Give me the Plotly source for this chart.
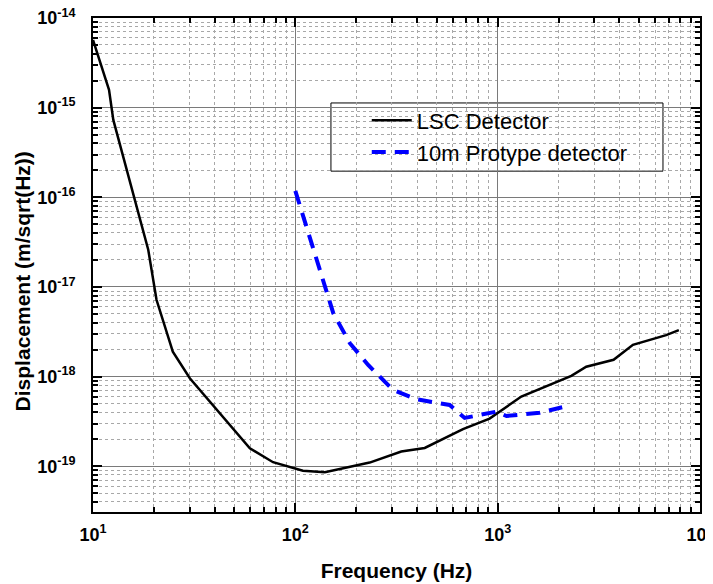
import plotly.graph_objects as go

# LSC Detector (black solid)
lsc_freq = [10, 12.0, 12.6, 18.75, 20.6, 24.8, 30.1, 59.6, 77.6, 109, 140, 233, 334, 436, 674, 912, 1309, 2312, 2741, 3740, 4660, 6800, 7860]
lsc_disp = [5.7e-15, 1.58e-15, 7.3e-16, 2.6e-17, 7.2e-18, 1.9e-18, 9.6e-19, 1.59e-19, 1.11e-19, 8.9e-20, 8.6e-20, 1.1e-19, 1.46e-19, 1.6e-19, 2.6e-19, 3.4e-19, 6.0e-19, 1.02e-18, 1.29e-18, 1.54e-18, 2.26e-18, 2.9e-18, 3.3e-18]

# 10m Prototype detector (blue dashed)
proto_freq = [100, 154, 186, 229, 304, 396, 579, 687, 986, 1105, 1611, 2084]
proto_disp = [1.18e-16, 5.1e-18, 2.36e-18, 1.35e-18, 7.1e-19, 5.6e-19, 4.83e-19, 3.46e-19, 4.07e-19, 3.64e-19, 3.95e-19, 4.55e-19]

x_tickvals = [10, 100, 1000, 10000]
x_ticktext = ["10<sup>1</sup>", "10<sup>2</sup>", "10<sup>3</sup>", "10<sup>4</sup>"]
y_tickvals = [1e-19, 1e-18, 1e-17, 1e-16, 1e-15, 1e-14]
y_ticktext = ["10<sup>-19</sup>", "10<sup>-18</sup>", "10<sup>-17</sup>", "10<sup>-16</sup>", "10<sup>-15</sup>", "10<sup>-14</sup>"]

# minor tick positions: 2..9 within each decade
x_minor = [m * 10 ** e for e in range(1, 4) for m in range(2, 10)]
y_minor = [m * 10.0 ** e for e in range(-20, -14) for m in range(2, 10)]

FONT = "Liberation Sans, Arial, sans-serif"

fig = go.Figure()
fig.add_trace(go.Scatter(x=lsc_freq, y=lsc_disp, mode="lines", name="LSC Detector",
                         line=dict(color="black", width=2.5)))
fig.add_trace(go.Scatter(x=proto_freq, y=proto_disp, mode="lines", name="10m Protype detector",
                         line=dict(color="#0000ff", width=4, dash="14px,9px")))

def axis_common(minor_vals):
    return dict(
        showline=True, linecolor="black", linewidth=2, mirror="allticks",
        ticks="inside", ticklen=9, tickwidth=2, tickcolor="black",
        showgrid=True, gridcolor="#7a7a7a", gridwidth=1,
        zeroline=False, automargin=False, ticklabeloverflow="allow",
        tickfont=dict(family=FONT, size=18, color="black", weight="bold"),
        minor=dict(tickmode="array", tickvals=minor_vals, ticks="inside", ticklen=5, tickwidth=1.5,
                   tickcolor="black", showgrid=True, gridcolor="#a8a8a8",
                   griddash="3px,3px", gridwidth=1),
    )

fig.update_xaxes(type="log", range=[1, 4], tickmode="array", tickvals=x_tickvals, ticktext=x_ticktext,
                 ticklabelstandoff=5,
                 title=dict(text="Frequency (Hz)", font=dict(family=FONT, size=21, color="black", weight="bold"), standoff=20),
                 **axis_common(x_minor))
fig.update_yaxes(type="log", range=[-19.51, -14], tickmode="array", tickvals=y_tickvals, ticktext=y_ticktext,
                 ticklabelstandoff=12,
                 **axis_common(y_minor))

# y axis title placed as an annotation to match the reference position
fig.add_annotation(text="Displacement (m/sqrt(Hz))", textangle=-90, xref="paper", yref="paper",
                   x=-0.116, y=0.466, xanchor="center", yanchor="middle", showarrow=False,
                   font=dict(family=FONT, size=21, color="black", weight="bold"))

fig.add_shape(type="rect", xref="paper", yref="paper", x0=0.392, x1=0.939, y0=0.690, y1=0.828,
              line=dict(color="black", width=1), fillcolor="white", layer="below")

fig.update_layout(
    width=705, height=576,
    margin=dict(l=85, r=13, t=10, b=72),
    paper_bgcolor="white", plot_bgcolor="white",
    font=dict(family=FONT, color="black"),
    showlegend=True,
    legend=dict(x=0.451, y=0.835, xanchor="left", yanchor="top",
                bgcolor="rgba(0,0,0,0)", borderwidth=0,
                font=dict(family=FONT, size=22, color="black"),
                tracegroupgap=0, itemwidth=40),
)

fig.write_html("out.html")
